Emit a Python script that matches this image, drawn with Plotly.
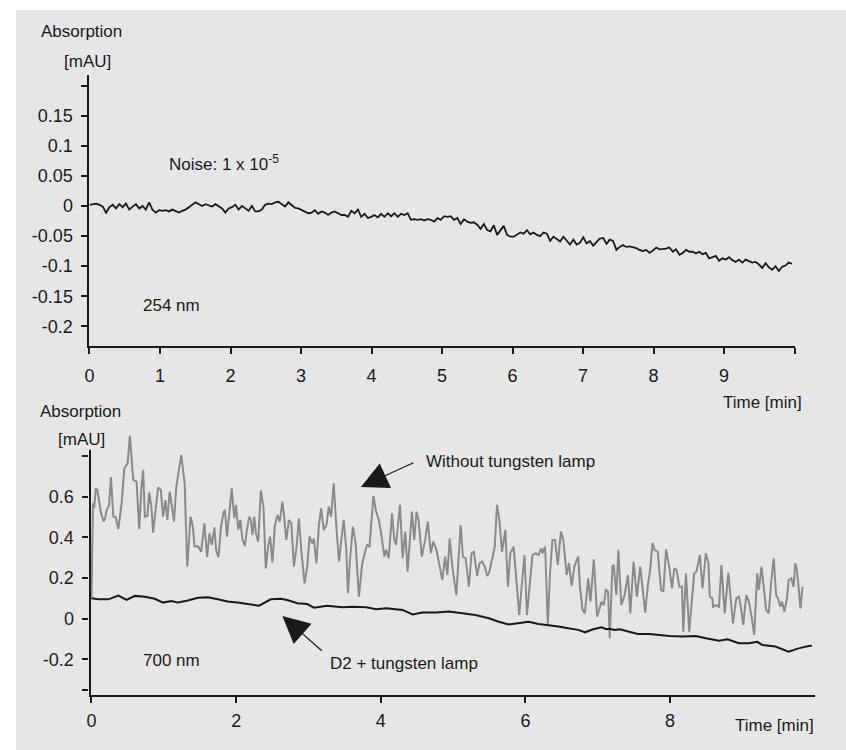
import plotly.graph_objects as go

W, H = 846, 750
BG = "#e6e6e6"
INK = "#1a1a1a"
GREY_LINE = "#8a8a8a"
FONT = "Liberation Sans, Arial, sans-serif"
FS = 17
TICK_FS = 18

# ---- 254 nm trace (sampled every SAMPLE_MIN minutes) ----
SAMPLE_MIN = 0.047
abs_254 = [
    0.002, 0.003, 0.004, 0.002, -0.001, -0.011, -0.002, 0.002, -0.004, 0.003,
    -0.002, 0.004, -0.006, -0.001, 0.003, -0.004, 0.000, -0.006, 0.006, -0.006,
    -0.011, -0.007, -0.008, -0.007, -0.009, -0.006, -0.009, -0.011, -0.008, -0.006,
    -0.002, 0.002, 0.006, 0.003, 0.000, 0.003, 0.001, -0.001, 0.003, 0.000,
    -0.004, -0.011, -0.004, -0.002, 0.002, -0.006, 0.000, -0.004, -0.008, 0.000,
    -0.009, -0.009, -0.006, 0.002, 0.004, 0.003, 0.006, 0.007, 0.003, -0.001,
    0.006, 0.002, -0.003, -0.004, -0.007, -0.009, -0.012, -0.011, -0.007, -0.013,
    -0.009, -0.011, -0.015, -0.011, -0.009, -0.012, -0.015, -0.015, -0.018, -0.008,
    -0.012, -0.006, -0.018, -0.013, -0.020, -0.018, -0.015, -0.019, -0.013, -0.018,
    -0.012, -0.017, -0.012, -0.018, -0.013, -0.015, -0.012, -0.023, -0.022, -0.023,
    -0.022, -0.024, -0.022, -0.023, -0.026, -0.020, -0.023, -0.017, -0.018,
    -0.017, -0.023, -0.020, -0.030, -0.022, -0.026, -0.028, -0.027, -0.031, -0.038,
    -0.030, -0.040, -0.042, -0.032, -0.048, -0.040, -0.033, -0.048, -0.051, -0.051,
    -0.048, -0.044, -0.046, -0.040, -0.047, -0.044, -0.048, -0.050, -0.044, -0.046,
    -0.058, -0.051, -0.055, -0.059, -0.051, -0.057, -0.064, -0.056, -0.064, -0.061,
    -0.052, -0.062, -0.058, -0.066, -0.059, -0.054, -0.053, -0.063, -0.056, -0.058,
    -0.073, -0.068, -0.065, -0.068, -0.067, -0.068, -0.070, -0.073, -0.075, -0.073,
    -0.078, -0.074, -0.069, -0.072, -0.072, -0.071, -0.069, -0.076, -0.072, -0.081,
    -0.078, -0.073, -0.076, -0.076, -0.079, -0.076, -0.080, -0.078, -0.087, -0.085,
    -0.083, -0.091, -0.087, -0.089, -0.085, -0.090, -0.093, -0.089, -0.094, -0.089,
    -0.091, -0.094, -0.093, -0.097, -0.103, -0.095, -0.102, -0.106, -0.100, -0.108,
    -0.101, -0.099, -0.094, -0.096,
]
time_254 = [round(i * SAMPLE_MIN, 3) for i in range(len(abs_254))]

# ---- 700 nm, without tungsten lamp ----
time_no_w = [
    0.00, 0.01, 0.02, 0.037, 0.060, 0.082, 0.105, 0.128, 0.165, 0.188,
    0.211, 0.243, 0.270, 0.302, 0.334, 0.371, 0.417, 0.454, 0.499, 0.531,
    0.577, 0.623, 0.660, 0.692, 0.715, 0.738, 0.774, 0.797, 0.829, 0.852,
    0.921, 0.958, 0.990, 1.022, 1.049, 1.081, 1.113, 1.141, 1.173, 1.242,
    1.288, 1.324, 1.370, 1.402, 1.425, 1.471, 1.517, 1.562, 1.599, 1.631,
    1.663, 1.700, 1.723, 1.755, 1.792, 1.828, 1.846, 1.874, 1.906, 1.938,
    1.975, 1.998, 2.030, 2.057, 2.089, 2.121, 2.149, 2.181, 2.204, 2.227,
    2.250, 2.273, 2.305, 2.341, 2.378, 2.410, 2.442, 2.470, 2.502, 2.534,
    2.571, 2.603, 2.639, 2.662, 2.694, 2.731, 2.763, 2.799, 2.836, 2.868,
    2.900, 2.946, 2.983, 3.015, 3.052, 3.074, 3.111, 3.143, 3.175, 3.212,
    3.249, 3.281, 3.313, 3.349, 3.386, 3.423, 3.455, 3.487, 3.524, 3.546,
    3.578, 3.615, 3.652, 3.698, 3.744, 3.775, 3.808, 3.844, 3.899, 3.936,
    3.973, 4.005, 4.050, 4.073, 4.110, 4.156, 4.188, 4.211, 4.266, 4.302,
    4.339, 4.371, 4.403, 4.431, 4.463, 4.495, 4.522, 4.568, 4.614, 4.650,
    4.692, 4.724, 4.770, 4.816, 4.852, 4.889, 4.921, 4.953, 4.990, 5.045,
    5.082, 5.104, 5.136, 5.173, 5.219, 5.255, 5.287, 5.333, 5.365, 5.402,
    5.439, 5.471, 5.503, 5.540, 5.576, 5.608, 5.640, 5.677, 5.723, 5.759,
    5.791, 5.837, 5.883, 5.915, 5.952, 5.988, 6.021, 6.066, 6.098, 6.144,
    6.181, 6.218, 6.236, 6.273, 6.309, 6.341, 6.373, 6.410, 6.447, 6.492,
    6.524, 6.570, 6.602, 6.639, 6.676, 6.731, 6.754, 6.790, 6.822, 6.868,
    6.900, 6.946, 6.992, 7.020, 7.052, 7.084, 7.112, 7.143, 7.166, 7.203,
    7.221, 7.258, 7.285, 7.326, 7.372, 7.418, 7.450, 7.496, 7.542, 7.588,
    7.624, 7.657, 7.693, 7.725, 7.758, 7.785, 7.830, 7.876, 7.908, 7.945,
    7.991, 8.027, 8.060, 8.092, 8.128, 8.165, 8.183, 8.220, 8.265, 8.302,
    8.334, 8.366, 8.412, 8.449, 8.495, 8.531, 8.550, 8.586, 8.595, 8.632,
    8.678, 8.710, 8.756, 8.806, 8.838, 8.870, 8.916, 8.953, 8.985, 9.012,
    9.054, 9.090, 9.127, 9.164, 9.205, 9.228, 9.265, 9.297, 9.329, 9.365,
    9.397, 9.434, 9.466, 9.493, 9.525, 9.548, 9.580, 9.617, 9.640, 9.676,
    9.708, 9.731, 9.754, 9.777, 9.804, 9.832,
]
abs_no_w = [
    0.100, 0.559, 0.567, 0.542, 0.640, 0.632, 0.583, 0.526, 0.477, 0.493,
    0.534, 0.559, 0.695, 0.501, 0.501, 0.440, 0.567, 0.739, 0.763, 0.900,
    0.682, 0.673, 0.440, 0.649, 0.731, 0.501, 0.505, 0.619, 0.550, 0.423,
    0.645, 0.632, 0.501, 0.583, 0.485, 0.624, 0.550, 0.477, 0.649, 0.804,
    0.665, 0.256, 0.501, 0.452, 0.354, 0.357, 0.329, 0.469, 0.302, 0.419,
    0.362, 0.449, 0.338, 0.302, 0.452, 0.526, 0.534, 0.403, 0.518, 0.640,
    0.493, 0.559, 0.436, 0.485, 0.387, 0.357, 0.436, 0.501, 0.485, 0.411,
    0.501, 0.420, 0.378, 0.629, 0.550, 0.247, 0.354, 0.403, 0.275, 0.452,
    0.510, 0.477, 0.575, 0.510, 0.387, 0.485, 0.469, 0.256, 0.354, 0.493,
    0.338, 0.174, 0.256, 0.403, 0.370, 0.395, 0.272, 0.452, 0.542, 0.436,
    0.460, 0.550, 0.501, 0.665, 0.452, 0.280, 0.387, 0.485, 0.338, 0.125,
    0.305, 0.452, 0.370, 0.108, 0.272, 0.321, 0.362, 0.354, 0.603, 0.526,
    0.485, 0.419, 0.305, 0.338, 0.297, 0.518, 0.387, 0.362, 0.559, 0.297,
    0.428, 0.231, 0.387, 0.526, 0.387, 0.526, 0.485, 0.305, 0.387, 0.477,
    0.321, 0.378, 0.338, 0.247, 0.190, 0.305, 0.215, 0.395, 0.256, 0.116,
    0.305, 0.460, 0.305, 0.297, 0.157, 0.321, 0.329, 0.210, 0.272, 0.280,
    0.256, 0.210, 0.231, 0.289, 0.354, 0.559, 0.485, 0.329, 0.436, 0.157,
    0.321, 0.354, 0.174, 0.018, 0.174, 0.313, 0.018, 0.206, 0.313, 0.321,
    0.313, 0.346, 0.321, 0.354, -0.031, 0.223, 0.387, 0.387, 0.264, 0.428,
    0.387, 0.215, 0.272, 0.160, 0.256, 0.305, 0.157, 0.043, 0.026, 0.198,
    0.084, 0.292, 0.010, 0.043, 0.084, 0.067, 0.141, 0.133, -0.096, 0.256,
    0.264, 0.116, 0.338, 0.067, 0.116, 0.215, 0.026, 0.280, 0.108, 0.256,
    0.141, 0.030, 0.165, 0.239, 0.373, 0.338, 0.329, 0.141, 0.133, 0.341,
    0.248, 0.149, 0.248, 0.239, 0.157, 0.157, -0.064, 0.223, -0.064, 0.092,
    0.223, 0.231, 0.313, 0.149, 0.321, 0.272, 0.108, 0.100, 0.059, 0.067,
    0.059, 0.264, 0.026, 0.226, 0.084, -0.023, 0.100, 0.108, 0.043, -0.031,
    0.116, 0.084, 0.010, -0.080, 0.223, 0.141, 0.256, 0.149, 0.043, 0.026,
    0.174, 0.297, 0.116, 0.100, 0.059, 0.084, 0.034, 0.100, 0.190, 0.198,
    0.157, 0.272, 0.239, 0.157, 0.051, 0.157,
]

# ---- 700 nm, D2 + tungsten lamp ----
time_d2_w = [
    0.000, 0.096, 0.234, 0.371, 0.486, 0.600, 0.738, 0.875, 0.990, 1.104,
    1.196, 1.333, 1.471, 1.608, 1.746, 1.883, 2.021, 2.158, 2.318, 2.479,
    2.616, 2.708, 2.845, 2.983, 3.075, 3.166, 3.258, 3.395, 3.478, 3.615,
    3.798, 3.936, 4.073, 4.302, 4.440, 4.577, 4.760, 4.944, 5.127, 5.310,
    5.494, 5.632, 5.769, 5.906, 6.044, 6.181, 6.319, 6.456, 6.594, 6.731,
    6.822, 6.937, 7.052, 7.120, 7.166, 7.235, 7.303, 7.441, 7.556, 7.716,
    7.853, 7.991, 8.174, 8.357, 8.495, 8.678, 8.793, 8.953, 9.090, 9.205,
    9.274, 9.457, 9.640, 9.777, 9.915, 9.961,
]
abs_d2_w = [
    0.100, 0.095, 0.095, 0.113, 0.092, 0.112, 0.108, 0.098, 0.079, 0.087,
    0.079, 0.089, 0.103, 0.105, 0.095, 0.084, 0.079, 0.072, 0.064, 0.095,
    0.098, 0.092, 0.076, 0.072, 0.054, 0.059, 0.064, 0.059, 0.056, 0.059,
    0.056, 0.046, 0.051, 0.043, 0.021, 0.030, 0.030, 0.035, 0.026, 0.018,
    0.002, -0.015, -0.028, -0.023, -0.015, -0.026, -0.031, -0.039, -0.047, -0.055,
    -0.067, -0.052, -0.042, -0.052, -0.050, -0.056, -0.052, -0.064, -0.075, -0.075,
    -0.080, -0.085, -0.088, -0.085, -0.096, -0.108, -0.101, -0.121, -0.121, -0.114,
    -0.129, -0.137, -0.162, -0.146, -0.134, -0.133,
]

# ---- ticks ----
top_yticks = [0.2, 0.15, 0.1, 0.05, 0, -0.05, -0.1, -0.15, -0.2]
top_ylabels = ["", "0.15", "0.1", "0.05", "0", "-0.05", "-0.1", "-0.15", "-0.2"]
top_xticks = [0, 1, 2, 3, 4, 5, 6, 7, 8, 9, 10]
top_xlabels = ["0", "1", "2", "3", "4", "5", "6", "7", "8", "9", ""]
bot_yticks = [0.8, 0.6, 0.4, 0.2, 0, -0.2, -0.35]
bot_ylabels = ["", "0.6", "0.4", "0.2", "0", "-0.2", ""]
bot_xticks = [0, 2, 4, 6, 8]
bot_xlabels = ["0", "2", "4", "6", "8"]


def px(x):
    return x / W


def py(y):
    return 1 - y / H


def axis(**kw):
    base = dict(
        showgrid=False, zeroline=False, ticks="outside", ticklen=6, tickwidth=1.5,
        tickcolor=INK, linecolor=INK, linewidth=2,
        tickfont=dict(family=FONT, size=TICK_FS, color=INK),
    )
    base.update(kw)
    return base


fig = go.Figure()
fig.add_trace(go.Scatter(x=time_254, y=abs_254, mode="lines",
                         line=dict(color=INK, width=1.8), xaxis="x", yaxis="y"))
fig.add_trace(go.Scatter(x=time_no_w, y=abs_no_w, mode="lines",
                         line=dict(color=GREY_LINE, width=2), xaxis="x2", yaxis="y2"))
fig.add_trace(go.Scatter(x=time_d2_w, y=abs_d2_w, mode="lines",
                         line=dict(color=INK, width=2), xaxis="x2", yaxis="y2"))

fig.update_layout(
    width=W, height=H, showlegend=False,
    paper_bgcolor="white", plot_bgcolor="rgba(0,0,0,0)",
    margin=dict(l=0, r=0, t=0, b=0),
    font=dict(family=FONT, size=FS, color=INK),
    xaxis=axis(domain=[px(85), px(795)], range=[0, 10.01], anchor="y",
               showline=True, tickvals=top_xticks, ticktext=top_xlabels,
               ticklabelstandoff=6),
    yaxis=axis(domain=[py(346), py(75)], range=[-0.2326, 0.2176], anchor="x",
               showline=True, tickvals=top_yticks, ticktext=top_ylabels,
               ticklabelstandoff=5),
    xaxis2=axis(domain=[px(85), px(815)], range=[-0.0275, 10.007], anchor="y2",
                showline=True, tickvals=bot_xticks, ticktext=bot_xlabels,
                ticklabelstandoff=2),
    yaxis2=axis(domain=[py(695), py(430)], range=[-0.375, 0.927], anchor="x2",
                showline=False, tickvals=bot_yticks, ticktext=bot_ylabels,
                ticklabelstandoff=5),
)

# grey panel and lower y-axis line
fig.add_shape(type="rect", xref="paper", yref="paper", x0=px(11), x1=1, y0=0, y1=py(10),
              fillcolor=BG, line_width=0, layer="below")
fig.add_shape(type="line", xref="paper", yref="y2", x0=px(85.5), x1=px(85.5),
              y0=-0.375, y1=0.83, line=dict(color=INK, width=2))

texts = [
    ("Absorption", 77, 32, "center"),
    ("[mAU]", 83, 61, "center"),
    ("Absorption", 76, 411, "center"),
    ("[mAU]", 77, 439, "center"),
    ("Noise: 1 x 10<sup>-5</sup>", 163, 163, "left"),
    ("254 nm", 137, 305, "left"),
    ("700 nm", 137, 660, "left"),
    ("Time [min]", 720, 402, "left"),
    ("Time [min]", 732, 725, "left"),
    ("Without tungsten lamp", 421, 461, "left"),
    ("D2 + tungsten lamp", 325, 663, "left"),
]
for t, x, y, anchor in texts:
    fig.add_annotation(text=t, x=px(x), y=py(y), xref="paper", yref="paper",
                       xanchor=anchor, yanchor="middle", showarrow=False,
                       font=dict(family=FONT, size=FS, color=INK))

# pointer arrows (tip, then tail offset in pixels)
for tip_x, tip_y, dx, dy in [(358, 487, 54, -25), (279, 616, 41, 36)]:
    fig.add_annotation(text="", x=px(tip_x), y=py(tip_y), xref="paper", yref="paper",
                       showarrow=True, arrowhead=2, arrowsize=4.5, arrowwidth=1.2,
                       arrowcolor=INK, ax=dx, ay=dy, axref="pixel", ayref="pixel")

fig.write_html("out.html", config={"displayModeBar": False},
               post_script="document.body.style.margin='0';")
